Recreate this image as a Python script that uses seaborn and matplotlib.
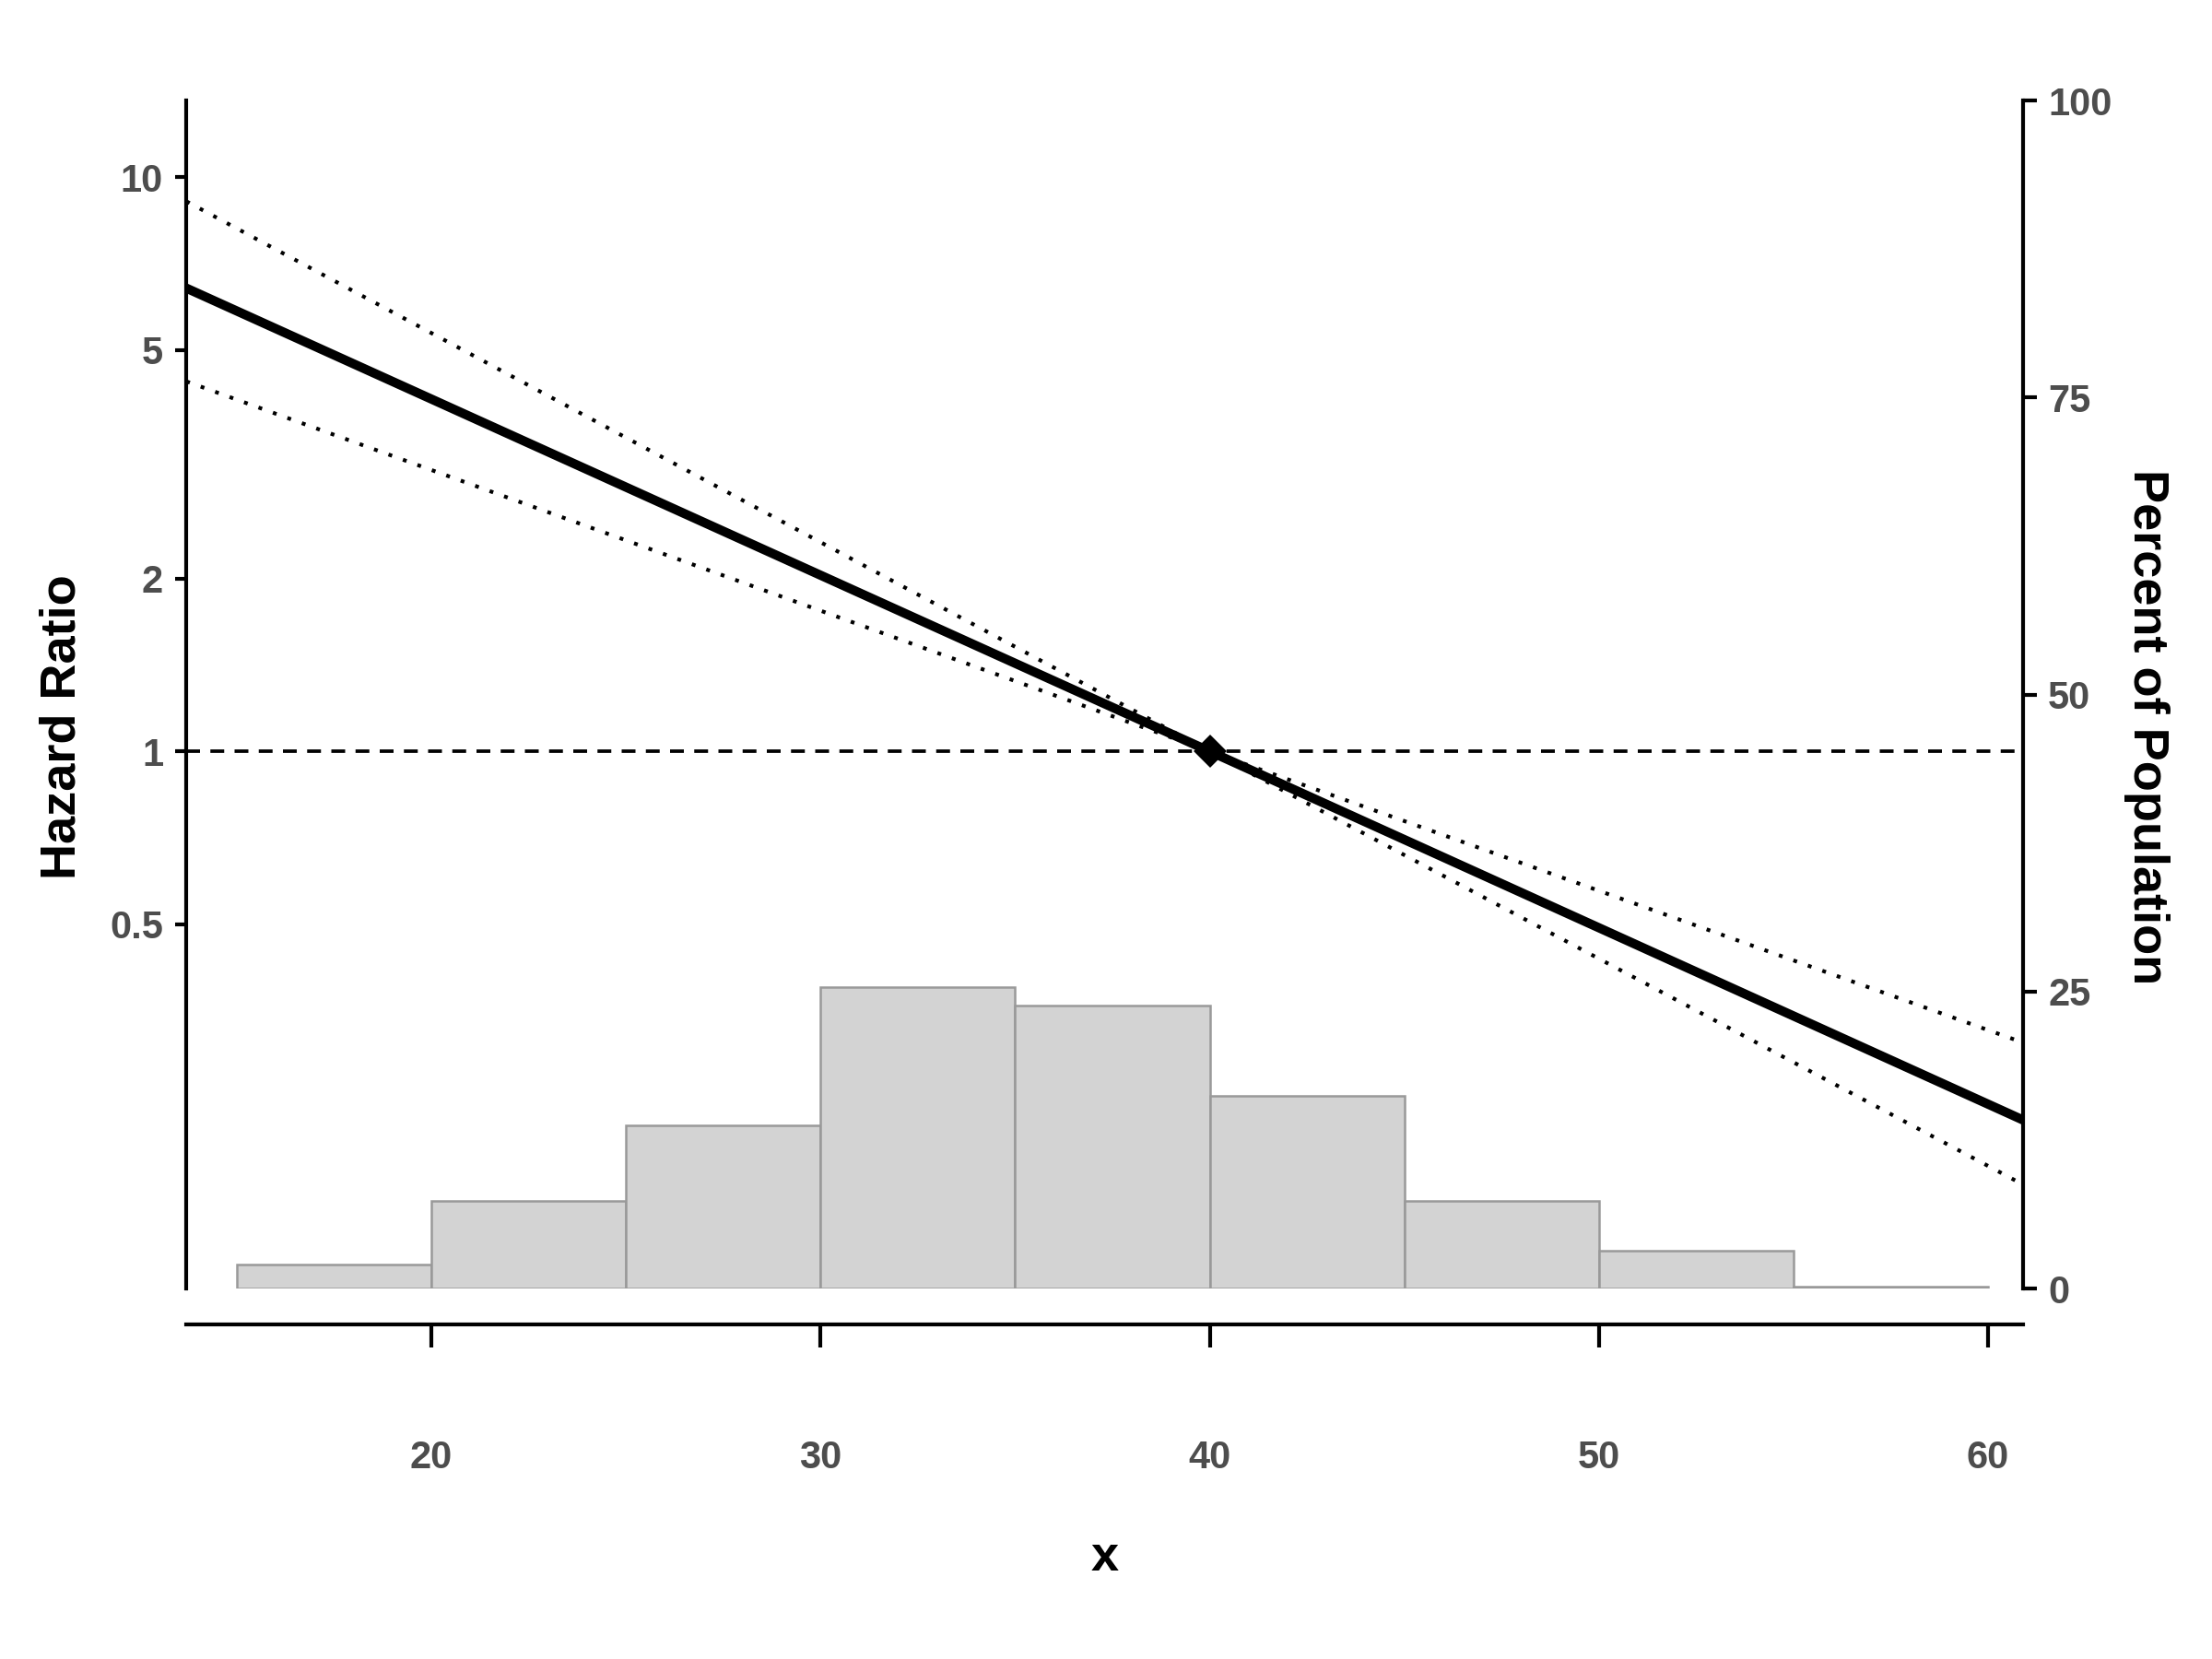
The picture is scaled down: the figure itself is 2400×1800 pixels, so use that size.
import matplotlib
matplotlib.use('Agg')
import matplotlib.pyplot as plt
import matplotlib.ticker as mticker
import seaborn as sns

# hazard ratio curve (read at the left edge, reference point and right edge)
x_pts = [13.7, 40, 60.9]
hr = [6.41, 1.0, 0.228]
hr_upper = [9.08, 1.0, 0.311]
hr_lower = [4.41, 1.0, 0.176]
ref_x = [40]
ref_hr = [1.0]

# population histogram (percent per 5-unit bin)
bin_edges = [15, 20, 25, 30, 35, 40, 45, 50, 55, 60]
bin_mid = [17.5, 22.5, 27.5, 32.5, 37.5, 42.5, 47.5, 52.5, 57.5]
pct = [2.0, 7.35, 13.7, 25.4, 23.8, 16.2, 7.35, 3.2, 0.15]

x_ticks = [20, 30, 40, 50, 60]
hr_ticks = [0.5, 1, 2, 5, 10]
hr_tick_labels = ['0.5', '1', '2', '5', '10']
pct_ticks = [0, 25, 50, 75, 100]

sns.set_theme(style='ticks')
plt.rcParams['font.family'] = ['Liberation Sans', 'DejaVu Sans']
plt.rcParams['font.weight'] = 'bold'

fig = plt.figure(figsize=(8, 6), dpi=300)
ax = fig.add_axes([0.0842, 0.2233, 0.8304, 0.7161])
ax2 = ax.twinx()
ax.set_zorder(2)
ax.patch.set_visible(False)

# histogram on the right axis, behind the curves
sns.histplot(x=bin_mid, weights=pct, bins=bin_edges, ax=ax2,
             color='#D3D3D3', edgecolor='#999999', linewidth=0.6, alpha=1)

# curves on the log hazard-ratio axis
ax.set_yscale('log')
ax.axhline(1, color='black', linewidth=0.9, linestyle=(0, (4, 3)), zorder=1)
sns.lineplot(x=x_pts, y=hr_upper, ax=ax, color='black', linewidth=1.0,
             linestyle=(0, (1, 3)), zorder=2)
sns.lineplot(x=x_pts, y=hr_lower, ax=ax, color='black', linewidth=1.0,
             linestyle=(0, (1, 3)), zorder=2)
sns.lineplot(x=x_pts, y=hr, ax=ax, color='black', linewidth=2.4, zorder=3)
ax.plot(ref_x, ref_hr, marker='D', markersize=5, color='black',
        linestyle='none', zorder=4)

ax.set_xlim(13.7, 60.9)
ax.set_ylim(0.116, 13.6)
ax2.set_ylim(0, 100)

ax.set_xticks(x_ticks)
ax.set_yticks(hr_ticks)
ax.set_yticklabels(hr_tick_labels)
ax.yaxis.set_minor_locator(mticker.NullLocator())
ax2.set_yticks(pct_ticks)

# spines
for s in ['top', 'right']:
    ax.spines[s].set_visible(False)
for s in ['top', 'left', 'bottom']:
    ax2.spines[s].set_visible(False)
ax.spines['bottom'].set_position(('outward', 9.4))
for s in ['left', 'bottom']:
    ax.spines[s].set_linewidth(1.0)
    ax.spines[s].set_color('black')
ax2.spines['right'].set_linewidth(1.0)
ax2.spines['right'].set_color('black')

tick_col = '#4D4D4D'
ax.tick_params(axis='x', length=6, width=1, pad=24, labelsize=10,
               labelcolor=tick_col, color='black')
ax.tick_params(axis='y', length=3, width=1, pad=3, labelsize=10,
               labelcolor=tick_col, color='black')
ax2.tick_params(axis='y', length=3.5, width=1, pad=3, labelsize=10,
                labelcolor=tick_col, color='black')

ax.set_xlabel('x', fontsize=13, fontweight='bold', color='black', va='center')
ax.xaxis.set_label_coords(0.5, -0.2265)
ax.set_ylabel('Hazard Ratio', fontsize=13, fontweight='bold', color='black',
              va='center')
ax.yaxis.set_label_coords(-0.0677, 0.473)
ax2.set_ylabel('Percent of Population', fontsize=13, fontweight='bold',
               color='black', rotation=270, va='center')
ax2.yaxis.set_label_coords(1.0673, 0.473)

fig.savefig('out.png', dpi=300, facecolor='white')
